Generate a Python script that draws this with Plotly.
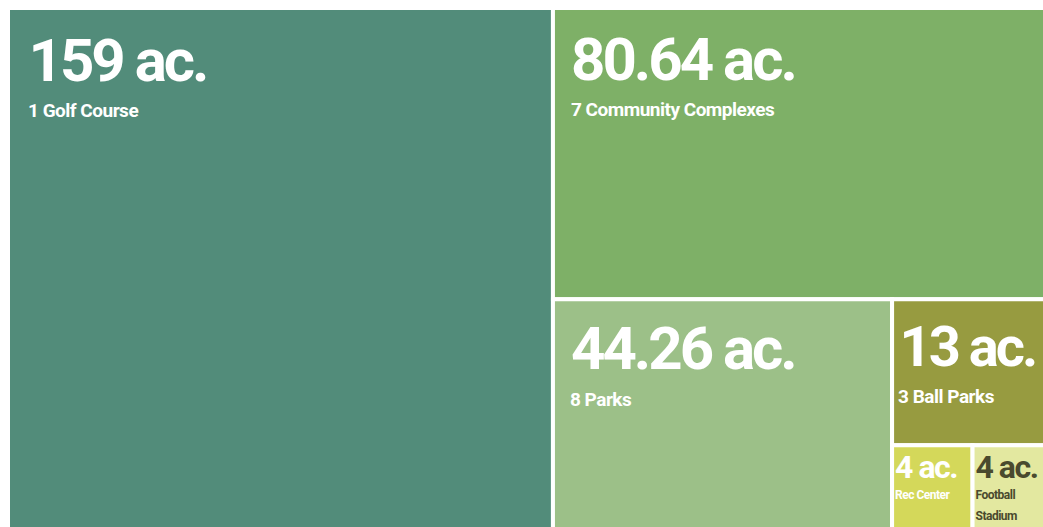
import plotly.graph_objects as go

labels = ["1 Golf Course", "7 Community Complexes", "8 Parks", "3 Ball Parks", "Rec Center", "Football Stadium"]
acres = [159, 80.64, 44.26, 13, 4, 4]
colors = ["#528C7A", "#7EB067", "#9CC088", "#979B40", "#D4D85A", "#E3E8A0"]
text_colors = ["#FFFFFF", "#FFFFFF", "#FFFFFF", "#FFFFFF", "#FFFFFF", "#4A4A2E"]

# ---- text styling (positions/sizes, not data) ----
ASC = 0.928     # Roboto ascent (em)
SPW = 0.248     # Roboto space width (em)
NB = "\u00a0"
base_font = [28, 28, 28, 28, 16, 16]
big_size = [60, 60, 60, 56, 32, 32]
big_ls = [-3, -3, -3, -3, -1.5, -1.5]
lbl_size = [19, 19, 19, 19, 12, 12]
base_off = [70, 69, 67, 64, 0, 0]        # baseline of big line below tile top (px)
big_indent = [17.5, 15, 15, 4.5, 0, 0]   # px
lbl_indent = [17, 15, 14, 3, 0, 0]       # px


def spacer(size, width):
    ls = width - SPW * size
    return f"<span style='font-size:{size:.1f}px;letter-spacing:{ls:.1f}px'>{NB}</span>"


display = [lab if i < 5 else lab.replace(" ", "<br>") for i, lab in enumerate(labels)]

tpls = []
for i in range(len(labels)):
    if base_off[i]:
        s_big = spacer(base_off[i] / ASC, big_indent[i])
        s_lbl = spacer(lbl_size[i], lbl_indent[i])
    else:
        s_big = ""
        s_lbl = ""
    tpls.append(
        s_big
        + f"<span style='font-size:{big_size[i]}px;font-weight:700;letter-spacing:{big_ls[i]}px'>%{{value}} ac.</span>"
        + "<br>" + s_lbl
        + f"<span style='font-size:{lbl_size[i]}px;font-weight:700;letter-spacing:-0.5px'>%{{text}}</span>"
    )

fig = go.Figure(go.Treemap(
    labels=labels,
    parents=[""] * len(labels),
    values=acres,
    text=display,
    sort=True,
    tiling=dict(packing="squarify", pad=0),
    marker=dict(colors=colors, line=dict(color="white", width=4), pad=dict(t=0, l=0, r=0, b=0)),
    texttemplate=tpls,
    textposition="top left",
    textfont=dict(family="Roboto", size=base_font, color=text_colors),
    hoverinfo="skip",
    pathbar=dict(visible=False),
))

fig.update_layout(
    width=1053,
    height=535,
    margin=dict(l=8, r=0, t=8, b=0),
    paper_bgcolor="white",
    showlegend=False,
)

fig.write_html(
    "out.html",
    config={"displayModeBar": False},
    post_script="document.body.style.margin='0';document.documentElement.style.overflow='hidden';",
)
